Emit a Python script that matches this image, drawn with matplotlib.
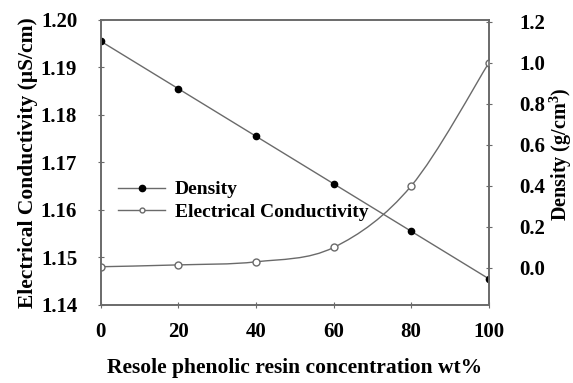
import matplotlib
matplotlib.use("Agg")
import matplotlib.pyplot as plt
from matplotlib.path import Path
from matplotlib.patches import PathPatch
import numpy as np

plt.rcParams['font.family'] = ['Liberation Serif', 'DejaVu Serif']
plt.rcParams['font.weight'] = 'bold'
plt.rcParams['mathtext.fontset'] = 'custom'
plt.rcParams['mathtext.bf'] = 'Liberation Serif:bold'

conc = [0, 20, 40, 60, 80, 100]
density = [1.1955, 1.1855, 1.1755, 1.1655, 1.1555, 1.1455]
conductivity = [0.006, 0.015, 0.03, 0.10, 0.40, 1.0]

left_ticks = [1.14, 1.15, 1.16, 1.17, 1.18, 1.19, 1.20]
right_ticks = [0.0, 0.2, 0.4, 0.6, 0.8, 1.0, 1.2]

line_col = '#6a6a6a'


def smooth_path(xs, ys):
    # Catmull-Rom style bezier through the points
    pts = np.column_stack([xs, ys]).astype(float)
    verts = [pts[0]]
    codes = [Path.MOVETO]
    n = len(pts)
    for i in range(n - 1):
        p0 = pts[i - 1] if i > 0 else pts[i]
        p1 = pts[i]
        p2 = pts[i + 1]
        p3 = pts[i + 2] if i + 2 < n else pts[i + 1]
        c1 = p1 + (p2 - p0) / 6.0
        c2 = p2 - (p3 - p1) / 6.0
        verts += [c1, c2, p2]
        codes += [Path.CURVE4] * 3
    return Path(verts, codes)


fig, ax = plt.subplots(figsize=(5.73, 3.83), dpi=100)
fig.subplots_adjust(left=0.176, right=0.853, top=0.948, bottom=0.204)
ax2 = ax.twinx()

l1, = ax.plot(conc, density, color=line_col, lw=1.0, marker='o', ms=4.5,
              mfc='black', mec='black', label='Density')

patch = PathPatch(smooth_path(conc, conductivity), fc='none', ec=line_col, lw=1.0)
ax2.add_patch(patch)
ax2.plot(conc, conductivity, ls='none', marker='o', ms=5, mfc='white',
         mec=line_col, mew=1.0)
l2, = ax2.plot([], [], color=line_col, lw=1.0, marker='o', ms=3.5, mfc='white',
               mec=line_col, label='Electrical Conductivity')

ax.set_xlim(0, 100)
ax.set_ylim(1.14, 1.20)
ax2.set_ylim(-0.18, 1.21)
ax.set_xticks(conc)
ax.set_yticks(left_ticks)
ax.set_yticklabels([f'{t:.2f}' for t in left_ticks])
ax2.set_yticks(right_ticks)
ax2.set_yticklabels([f'{t:.1f}' for t in right_ticks])

for a in (ax, ax2):
    a.tick_params(direction='inout', length=4, width=0.8, color=line_col,
                  labelsize=15)
    for s in a.spines.values():
        s.set_color(line_col)
        s.set_linewidth(1.2)
ax.tick_params(axis='x', pad=10)
ax.tick_params(axis='y', pad=15)
ax2.tick_params(axis='y', pad=20)

ax.set_xlabel('Resole phenolic resin concentration wt%', fontsize=15.5,
              fontweight='bold', labelpad=12)
ax.set_ylabel('Electrical Conductivity (\u03bcS/cm)', fontsize=15.5,
              fontweight='bold', labelpad=2)
ax2.set_ylabel('Density (g/cm$^\\mathbf{3}$)', fontsize=14.5, fontweight='bold')
ax2.yaxis.set_label_coords(1.15, 0.53)

ax.legend(handles=[l1, l2], loc='center left', bbox_to_anchor=(0.0, 0.365),
          frameon=False, fontsize=14, handlelength=2.4, handletextpad=0.5,
          labelspacing=0.25)

fig.savefig('out.png', dpi=100)
